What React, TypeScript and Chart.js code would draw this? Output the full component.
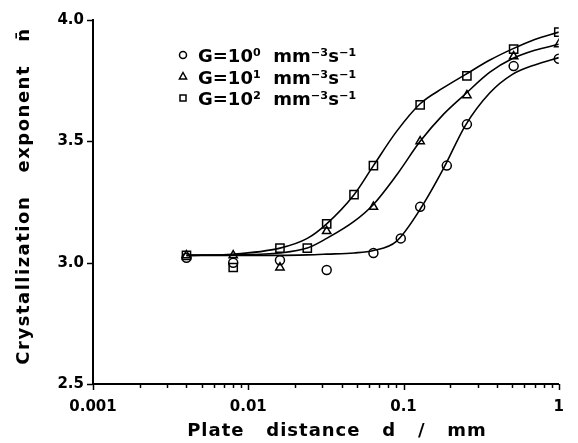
import React, { useEffect, useRef } from 'react';
import { Chart, registerables } from 'chart.js';

Chart.register(...registerables);

// ---- data ----
const seriesNames = ['G=10\u2070  mm\u207B\u00B3s\u207B\u00B9', 'G=10\u00B9  mm\u207B\u00B3s\u207B\u00B9', 'G=10\u00B2  mm\u207B\u00B3s\u207B\u00B9'];
const pointStyles = ['circle', 'triangle', 'rect'];

// measured points
const circleX = [0.004, 0.008, 0.016, 0.032, 0.064, 0.096, 0.128, 0.19, 0.256, 0.512, 1.0];
const circleY = [3.02, 3.0, 3.01, 2.97, 3.04, 3.1, 3.23, 3.4, 3.57, 3.81, 3.84];
const triangleX = [0.004, 0.008, 0.016, 0.032, 0.064, 0.128, 0.256, 0.512, 1.0];
const triangleY = [3.03, 3.03, 2.98, 3.13, 3.23, 3.5, 3.69, 3.85, 3.9];
const squareX = [0.004, 0.008, 0.016, 0.024, 0.032, 0.048, 0.064, 0.128, 0.256, 0.512, 1.0];
const squareY = [3.03, 2.98, 3.06, 3.06, 3.16, 3.28, 3.4, 3.65, 3.77, 3.88, 3.95];

// fitted curves
const curveX = [0.004, 0.008, 0.016, 0.024, 0.032, 0.048, 0.064, 0.09, 0.128, 0.18, 0.25, 0.36, 0.5, 0.7, 1.0];
const curveG0 = [3.03, 3.03, 3.03, 3.032, 3.035, 3.04, 3.05, 3.088, 3.22, 3.385, 3.565, 3.7, 3.775, 3.815, 3.845];
const curveG1 = [3.03, 3.032, 3.04, 3.06, 3.1, 3.17, 3.24, 3.36, 3.5, 3.61, 3.695, 3.785, 3.84, 3.875, 3.9];
const curveG2 = [3.03, 3.035, 3.06, 3.1, 3.16, 3.28, 3.4, 3.54, 3.655, 3.72, 3.775, 3.835, 3.88, 3.92, 3.95];

const xMajorTicks = [0.001, 0.01, 0.1, 1];
const xTickLabels = ['0.001', '0.01', '0.1', '1'];
const yTickValues = [2.5, 3.0, 3.5, 4.0];
const xTitle = 'Plate   distance   d   /   mm';
const yTitle = 'Crystallization   exponent   n\u0304';

const FONT = '"DejaVu Sans", sans-serif';

const pts = (xs: number[], ys: number[]) => xs.map((x, i) => ({ x, y: ys[i] }));

const decorPlugin = {
  id: 'decor',
  afterDraw(chart: any) {
    const ctx: CanvasRenderingContext2D = chart.ctx;
    const xs = chart.scales.x;
    const ys = chart.scales.y;
    const area = chart.chartArea;
    ctx.save();
    ctx.strokeStyle = '#000';
    ctx.fillStyle = '#000';
    ctx.lineWidth = 1.5;
    // x ticks (major + minor)
    for (let e = -3; e <= 0; e++) {
      for (let m = 1; m <= 9; m++) {
        const v = m * Math.pow(10, e);
        if (v > 1.0001) break;
        const px = Math.round(xs.getPixelForValue(v)) + 0.5;
        const len = m === 1 ? 6 : 4;
        ctx.beginPath();
        ctx.moveTo(px, area.bottom);
        ctx.lineTo(px, area.bottom + len);
        ctx.stroke();
      }
    }
    // y ticks
    yTickValues.forEach((v) => {
      const py = Math.round(ys.getPixelForValue(v)) + 0.5;
      ctx.beginPath();
      ctx.moveTo(area.left, py);
      ctx.lineTo(area.left - 6, py);
      ctx.stroke();
    });

    // titles
    ctx.font = `bold 18px ${FONT}`;
    (ctx as any).letterSpacing = '1px';
    ctx.textAlign = 'center';
    ctx.textBaseline = 'alphabetic';
    ctx.fillText(xTitle, 337, 436);
    ctx.save();
    ctx.translate(29, 196);
    ctx.rotate(-Math.PI / 2);
    (ctx as any).letterSpacing = '1.5px';
    ctx.fillText(yTitle, 0, 0);
    ctx.restore();
    (ctx as any).letterSpacing = '0px';

    // legend
    const rows = [55, 76.5, 98];
    ctx.textAlign = 'left';
    ctx.font = `bold 18px ${FONT}`;
    ctx.lineWidth = 1.5;
    rows.forEach((ry, i) => {
      const cx = 183;
      ctx.beginPath();
      if (pointStyles[i] === 'circle') {
        ctx.arc(cx, ry, 3.5, 0, Math.PI * 2);
      } else if (pointStyles[i] === 'triangle') {
        ctx.moveTo(cx, ry - 4);
        ctx.lineTo(cx + 3.6, ry + 2.5);
        ctx.lineTo(cx - 3.6, ry + 2.5);
        ctx.closePath();
      } else {
        ctx.rect(cx - 3, ry - 3, 6, 6);
      }
      ctx.stroke();
      ctx.fillText(seriesNames[i], 198, ry + 7);
    });
    ctx.restore();
  },
};

export default function App() {
  const ref = useRef<HTMLCanvasElement | null>(null);
  useEffect(() => {
    document.body.style.margin = '0';
    const canvas = ref.current;
    if (!canvas) return;
    const markerBase = {
      showLine: false,
      borderColor: '#000',
      backgroundColor: 'rgba(0,0,0,0)',
      borderWidth: 1.5,
    };
    const curveBase = {
      showLine: true,
      borderColor: '#000',
      backgroundColor: 'rgba(0,0,0,0)',
      borderWidth: 1.6,
      pointRadius: 0,
      cubicInterpolationMode: 'monotone' as const,
      fill: false,
    };
    const chart = new Chart(canvas, {
      type: 'scatter',
      data: {
        datasets: [
          { ...curveBase, label: 'fit0', data: pts(curveX, curveG0) },
          { ...curveBase, label: 'fit1', data: pts(curveX, curveG1) },
          { ...curveBase, label: 'fit2', data: pts(curveX, curveG2) },
          { ...markerBase, label: seriesNames[0], data: pts(circleX, circleY), pointStyle: 'circle', pointRadius: 4.5 },
          { ...markerBase, label: seriesNames[1], data: pts(triangleX, triangleY), pointStyle: 'triangle', pointRadius: 4.8 },
          { ...markerBase, label: seriesNames[2], data: pts(squareX, squareY), pointStyle: 'rect', pointRadius: 5.8 },
        ],
      },
      options: {
        responsive: false,
        animation: false,
        devicePixelRatio: 1,
        layout: { padding: { left: 0, right: 7, top: 20, bottom: 0 } },
        plugins: {
          legend: { display: false },
          tooltip: { enabled: false },
        },
        scales: {
          x: {
            type: 'logarithmic',
            min: 0.001,
            max: 1,
            grid: { display: false, drawTicks: false },
            border: { display: true, color: '#000', width: 2 },
            ticks: {
              autoSkip: false,
              maxRotation: 0,
              padding: 14,
              color: '#000',
              font: { family: FONT, size: 15, weight: 'bold' },
              callback: (value: any) => {
                const v = Number(value);
                const idx = xMajorTicks.findIndex((t) => Math.abs(t - v) / t < 1e-6);
                return idx >= 0 ? xTickLabels[idx] : '';
              },
            },
            afterFit: (s: any) => {
              s.height = 59;
            },
          },
          y: {
            type: 'linear',
            min: 2.5,
            max: 4.0,
            grid: { display: false, drawTicks: false },
            border: { display: true, color: '#000', width: 2 },
            ticks: {
              stepSize: 0.5,
              padding: 9,
              color: '#000',
              font: { family: FONT, size: 15, weight: 'bold' },
              callback: (value: any) => Number(value).toFixed(1),
            },
            afterFit: (s: any) => {
              s.width = 93;
            },
          },
        },
      },
      plugins: [decorPlugin],
    });
    return () => chart.destroy();
  }, []);
  return (
    <div style={{ width: 578, height: 443 }}>
      <canvas ref={ref} width={578} height={443} />
    </div>
  );
}
